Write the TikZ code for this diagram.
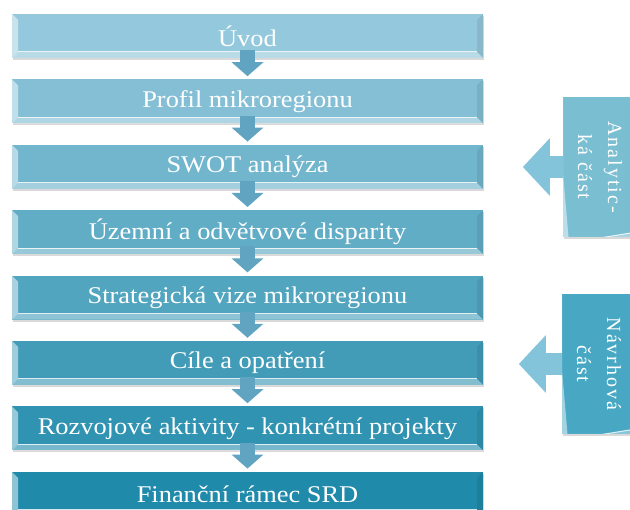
\documentclass[tikz,border=0pt]{standalone}
\usepackage{fontspec}
\setmainfont[FakeStretch=1.1]{Liberation Serif}
\newfontfamily\sidefont[LetterSpace=10]{Liberation Serif}
\usetikzlibrary{positioning,arrows.meta,shadows,backgrounds}

\definecolor{stagetop}{RGB}{148,200,220}
\definecolor{stagebot}{RGB}{32,138,170}
\colorlet{stage1}{stagetop}
\colorlet{stage2}{stagetop!86!stagebot}
\colorlet{stage3}{stagetop!71!stagebot}
\colorlet{stage4}{stagetop!57!stagebot}
\colorlet{stage5}{stagetop!43!stagebot}
\colorlet{stage6}{stagetop!29!stagebot}
\colorlet{stage7}{stagetop!14!stagebot}
\colorlet{stage8}{stagebot}
\definecolor{partA}{RGB}{122,190,210}
\definecolor{partB}{RGB}{72,168,196}
\definecolor{flowblue}{RGB}{96,164,194}
\definecolor{backblue}{RGB}{132,196,218}

\tikzset{
	bevel/.style={path picture={
		\fill[white,opacity=.35] (path picture bounding box.south west) -- (path picture bounding box.south east)
			-- ([shift={(-6pt,6pt)}]path picture bounding box.south east) -- ([shift={(6pt,6pt)}]path picture bounding box.south west) -- cycle;
		\fill[white,opacity=.5] (path picture bounding box.south west) -- (path picture bounding box.north west)
			-- ([shift={(6pt,-6pt)}]path picture bounding box.north west) -- ([shift={(6pt,6pt)}]path picture bounding box.south west) -- cycle;
		\fill[black,opacity=.08] (path picture bounding box.north east) -- (path picture bounding box.south east)
			-- ([shift={(-6pt,6pt)}]path picture bounding box.south east) -- ([shift={(-6pt,-6pt)}]path picture bounding box.north east) -- cycle;
		\draw[white,opacity=.8,line width=1pt] ([shift={(6pt,6pt)}]path picture bounding box.south west) -- ([shift={(-6pt,6pt)}]path picture bounding box.south east);
	}},
	stage/.style={rectangle,fill=#1,minimum width=471pt,minimum height=44pt,inner sep=0pt,
		text=white,font=\fontsize{24}{28}\selectfont,
		drop shadow={opacity=.3,shadow xshift=1pt,shadow yshift=-2pt},bevel},
	part/.style={rectangle,fill=#1,rotate=-90,minimum width=140pt,minimum height=74pt,inner sep=0pt,
		text=white,align=center,font=\sidefont\fontsize{20}{30}\selectfont,
		drop shadow={opacity=.3,shadow xshift=1pt,shadow yshift=-2pt},bevel},
	flow/.style={draw=flowblue,line width=15pt,-{Triangle[width=31pt,length=14pt]}},
	back/.style={draw=backblue,line width=22pt,-{Triangle[width=56pt,length=27pt]}},
}

\begin{document}
\begin{tikzpicture}[x=1pt,y=-1pt]
	\useasboundingbox (0,0) rectangle (630,510);
	\clip (0,0) rectangle (630,510);

	% main steps
	\node [stage=stage1] (uvod) at (247.5,36) {Úvod};
	\node [stage=stage2,below=21pt of uvod] (profil) {Profil mikroregionu};
	\node [stage=stage3,below=21pt of profil] (swot) {SWOT analýza};
	\node [stage=stage4,below=21pt of swot] (disp) {Územní a odvětvové disparity};
	\node [stage=stage5,below=21pt of disp] (vize) {Strategická vize mikroregionu};
	\node [stage=stage6,below=21pt of vize] (cile) {Cíle a opatření};
	\node [stage=stage7,below=21pt of cile] (aktiv) {Rozvojové aktivity - konkrétní projekty};
	\node [stage=stage8,below=21pt of aktiv] (financ) {Finanční rámec SRD};

	\draw [flow] ([yshift=8pt]uvod.south) -- ([yshift=3pt]profil.north);
	\draw [flow] ([yshift=8pt]profil.south) -- ([yshift=3pt]swot.north);
	\draw [flow] ([yshift=8pt]swot.south) -- ([yshift=3pt]disp.north);
	\draw [flow] ([yshift=8pt]disp.south) -- ([yshift=3pt]vize.north);
	\draw [flow] ([yshift=8pt]vize.south) -- ([yshift=3pt]cile.north);
	\draw [flow] ([yshift=8pt]cile.south) -- ([yshift=3pt]aktiv.north);
	\draw [flow] ([yshift=8pt]aktiv.south) -- ([yshift=3pt]financ.north);

	% side parts
	\node [part=partA] (analyt) at (600,167) {Analytic-\\ká část};
	\node [part=partB] (navrh) at (599,364) {Návrhová\\část};
	\coordinate [left=40pt of analyt.south] (analyttip);
	\coordinate [left=43pt of navrh.south] (navrhtip);

	\begin{scope}[on background layer]
		\draw [back] ([xshift=8pt]analyt.south) -- (analyttip);
		\draw [back] ([xshift=8pt]navrh.south) -- (navrhtip);
	\end{scope}
\end{tikzpicture}
\end{document}
